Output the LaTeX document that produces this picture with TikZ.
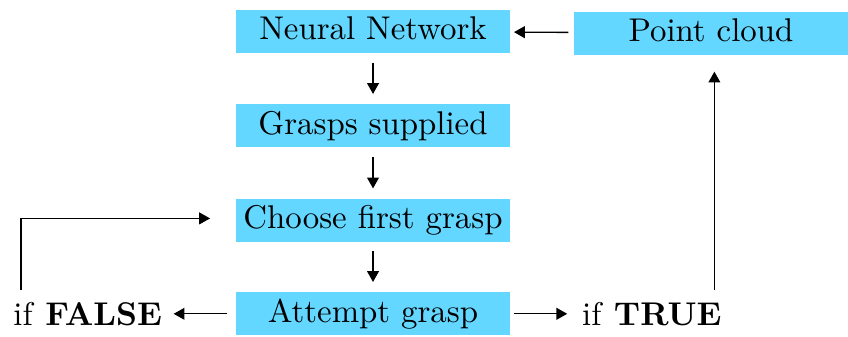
\documentclass[tikz,border=0pt]{standalone}
\usetikzlibrary{positioning, arrows.meta, calc}
\definecolor{boxcolor}{HTML}{63D7FF}

\begin{document}
\begin{tikzpicture}[
    block/.style={rectangle, fill=boxcolor, minimum width=2.93cm, inner xsep=2pt, inner ysep=2.05pt, text height=6.94pt, text depth=1.94pt, align=center},
    arr/.style={-{Triangle[length=3.3pt, width=3.6pt]}, shorten <=1pt, shorten >=1pt},
    down/.style={arr, shorten <=2.8pt, shorten >=3pt},
    lbl/.style={align=center},
  ]
    \node[block] (net) {Neural Network};
    \node[block, below=0.54cm of net] (sup) {Grasps supplied};
    \node[block, below=0.54cm of sup] (choose) {Choose first grasp};
    \node[block, below=0.53cm of choose] (attempt) {Attempt grasp};
    \node[block, right=0.67cm of net, yshift=-0.02cm] (cloud) {Point cloud};

    \node[lbl, left=0.66cm of attempt] (false) {if \textbf{FALSE}};
    \node[lbl, right=0.64cm of attempt] (true) {if \textbf{TRUE}};

    \draw[arr, shorten <=1.5pt] (cloud) -- (net);
    \draw[down] (net) -- (sup);
    \draw[down] (sup) -- (choose);
    \draw[down] (choose) -- (attempt);
    \draw[arr, shorten <=2.4pt, shorten >=0pt] (attempt) -- (false);
    \draw[arr] (attempt) -- (true);

    % loop back to the choice, or on to a new cloud
    \draw[arr, shorten <=0pt, shorten >=7.7pt] ([xshift=0.205cm]false.north west) |- ([yshift=0.02cm]choose.west);
    \draw[arr, shorten <=0pt, shorten >=5pt] ([xshift=-0.2cm]true.north east) -- ([xshift=-0.2cm]true.north east |- cloud.south);

    \useasboundingbox ($(false.west |- net.north)+(-0.02,0.1)$) rectangle ($(cloud.east |- attempt.south)+(-0.11,0.05)$);
  \end{tikzpicture}
\end{document}
